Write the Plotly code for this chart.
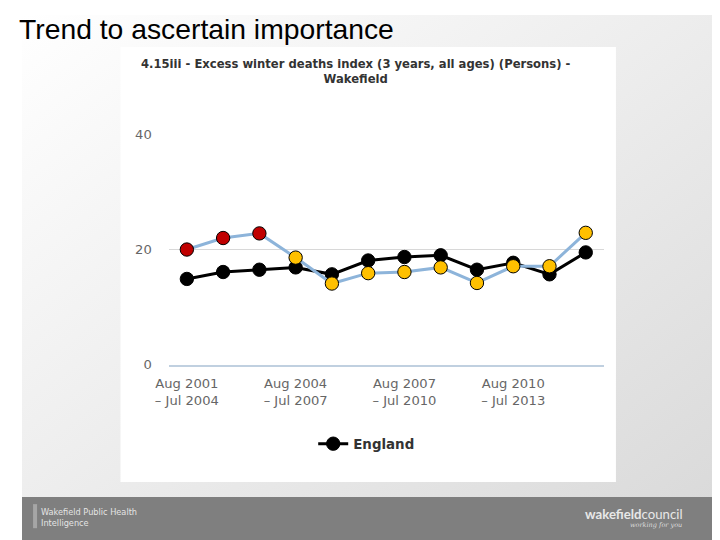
import base64
import plotly.graph_objects as go

# ---------------- data ----------------
periods = [f"Aug {y} – Jul {y + 3}" for y in range(2001, 2013)]
wakefield = [20.0, 22.0, 22.8, 18.6, 14.1, 15.9, 16.1, 16.9, 14.2, 17.1, 17.1, 22.9]
england = [14.9, 16.1, 16.5, 16.9, 15.7, 18.1, 18.7, 19.0, 16.5, 17.7, 15.7, 19.5]
significance = ["worse", "worse", "worse", "similar", "similar", "similar",
                "similar", "similar", "similar", "similar", "similar", "similar"]
tick_idx = [0, 3, 6, 9]
tick_text = ["Aug 2001<br>– Jul 2004", "Aug 2004<br>– Jul 2007",
             "Aug 2007<br>– Jul 2010", "Aug 2010<br>– Jul 2013"]
y_ticks = [0, 20, 40]

W, H = 720, 540
sig_colors = {"worse": "#C00000", "similar": "#FFC000", "better": "#92D050"}

# the photographed page shows the figure slightly shifted/scaled; map
# target screen pixels to paper fractions
OX, SX, OY, SY = 24.0, 0.9757, 16.0, 0.970
FS = 1 / 0.973


def px_x(p):
    return (p - OX) / SX / W


def px_y(p):
    return 1 - (p - OY) / SY / H


def f(s):
    return s * FS


fig = go.Figure()

fig.add_trace(go.Scatter(
    x=periods, y=england, name="England", mode="lines+markers",
    line=dict(color="#000000", width=3),
    marker=dict(color="#000000", size=f(13), line=dict(color="#000000", width=1)),
    cliponaxis=False,
))
fig.add_trace(go.Scatter(
    x=periods, y=wakefield, name="Wakefield", mode="lines+markers",
    showlegend=False,
    line=dict(color="#8DB4DA", width=3),
    marker=dict(color=[sig_colors[s] for s in significance], size=f(13),
                line=dict(color="#000000", width=1)),
    cliponaxis=False,
))

# background gradient
svg = ('<svg xmlns="http://www.w3.org/2000/svg" width="720" height="540" preserveAspectRatio="none">'
       '<defs><linearGradient id="g" x1="0" y1="0" x2="1" y2="1">'
       '<stop offset="0" stop-color="#ffffff"/>'
       '<stop offset="0.5" stop-color="#ececec"/>'
       '<stop offset="1" stop-color="#d8d8d8"/>'
       '</linearGradient></defs>'
       '<rect width="720" height="540" fill="url(#g)"/></svg>')
src = "data:image/svg+xml;base64," + base64.b64encode(svg.encode()).decode()

shapes = [
    dict(type="rect", xref="paper", yref="paper", layer="below",
         x0=px_x(122), x1=px_x(615), y0=px_y(482), y1=px_y(48),
         fillcolor="#ffffff", line=dict(width=0)),
    dict(type="rect", xref="paper", yref="paper", layer="below",
         x0=0, x1=1, y0=0, y1=px_y(497),
         fillcolor="#7f7f7f", line=dict(width=0)),
    dict(type="rect", xref="paper", yref="paper", layer="below",
         x0=px_x(35), x1=px_x(39), y0=px_y(528), y1=px_y(504),
         fillcolor="#a6a6a6", line=dict(width=0)),
]

annotations = [
    dict(text="Trend to ascertain importance", xref="paper", yref="paper",
         x=px_x(19.5), y=px_y(30), xanchor="left", yanchor="middle", showarrow=False,
         font=dict(family="Liberation Sans, Arial", size=28.3, color="#000000")),
    dict(text="<b>4.15iii - Excess winter deaths index (3 years, all ages) (Persons) -<br>Wakefield</b>",
         xref="paper", yref="paper", x=px_x(356), y=px_y(72),
         xanchor="center", yanchor="middle", showarrow=False,
         font=dict(family="DejaVu Sans", size=11.6, color="#333333")),
    dict(text="Wakefield Public Health<br>Intelligence", xref="paper", yref="paper",
         x=px_x(41), y=px_y(517), xanchor="left", yanchor="middle", showarrow=False,
         align="left", font=dict(family="DejaVu Sans", size=8.2, color="#e4e4e4")),
    dict(text="<b>wakefield</b>council", xref="paper", yref="paper",
         x=px_x(684), y=px_y(514), xanchor="right", yanchor="middle", showarrow=False,
         font=dict(family="Lato", size=13.2, color="#e8e8e8")),
    dict(text="<i>working for you</i>", xref="paper", yref="paper",
         x=px_x(683), y=px_y(525), xanchor="right", yanchor="middle", showarrow=False,
         font=dict(family="DejaVu Serif", size=6.5, color="#dddddd")),
]

fig.update_layout(
    width=W, height=H,
    margin=dict(l=0, r=0, t=0, b=0),
    paper_bgcolor="#ffffff", plot_bgcolor="rgba(0,0,0,0)",
    images=[dict(source=src, xref="paper", yref="paper", x=0, y=1,
                 sizex=1, sizey=1, xanchor="left", yanchor="top",
                 sizing="stretch", layer="below")],
    shapes=shapes,
    annotations=annotations,
    showlegend=True,
    legend=dict(orientation="h", x=px_x(367), y=px_y(444), xanchor="center",
                yanchor="middle", bgcolor="rgba(0,0,0,0)",
                font=dict(family="DejaVu Sans", size=13.4, color="#333333", weight="bold"),
                itemwidth=30),
    xaxis=dict(domain=[px_x(170), px_x(603)], type="category",
               categoryorder="array", categoryarray=periods,
               range=[-0.5, len(periods) - 0.5],
               tickmode="array", tickvals=[periods[i] for i in tick_idx],
               ticktext=tick_text, tickangle=0,
               showgrid=False, zeroline=False,
               showline=True, linecolor="#C0D0E0", linewidth=2,
               ticks="", ticklabelstandoff=5,
               tickfont=dict(family="DejaVu Sans", size=13.1, color="#666666")),
    yaxis=dict(domain=[px_y(365), px_y(135)], range=[0, 40],
               tickmode="array", tickvals=y_ticks,
               showgrid=True, gridcolor="#D8D8D8", gridwidth=1,
               zeroline=False, showline=False, ticks="",
               ticklabelstandoff=16,
               tickfont=dict(family="DejaVu Sans", size=13.1, color="#666666")),
    font=dict(family="DejaVu Sans"),
)

fig.write_html("out.html", config={"displayModeBar": False})
